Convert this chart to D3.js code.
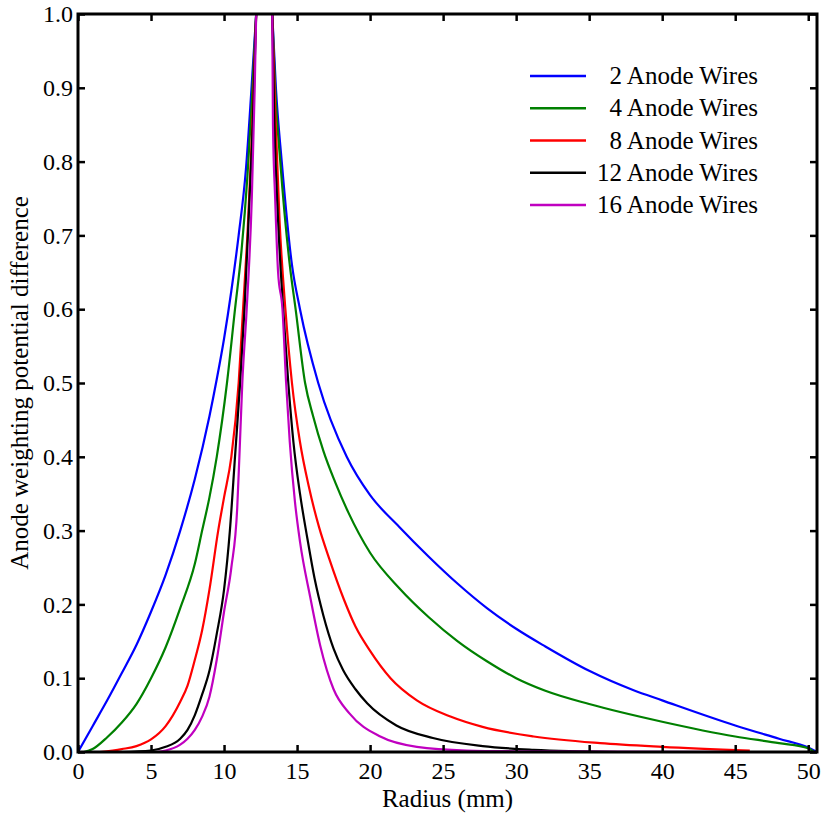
<!DOCTYPE html>
<meta charset="utf-8">
<style>
body { margin: 0; background: #fff; }
.curve { fill: none; stroke-width: 2.2px; stroke-linejoin: round; }
</style>
<svg id="chart"></svg>
<script src="https://cdn.jsdelivr.net/npm/d3@7/dist/d3.min.js"></script>
<script>

// radius (mm) and anode weighting potential difference
// null marks the break where the curve leaves the top of the plot
var wires2 = [[0,0],[1,0.035],[2,0.07],[3,0.107],[4,0.145],[5,0.19],[6,0.24],[7,0.3],[8,0.37],[9,0.455],[9.5,0.505],[10,0.56],[10.5,0.625],[11,0.7],[11.5,0.79],[11.85,0.89],[12.2,1],
  null,
  [13.3,1],[13.55,0.9],[13.95,0.8],[14.65,0.66],[15.2,0.6],[16.45,0.5],[18.4,0.4],[20,0.348],[22,0.305],[24,0.265],[26,0.228],[28,0.195],[30,0.167],[32,0.143],[35,0.11],[38,0.084],[40,0.07],[45,0.036],[48,0.018],[50,0.006],[50.6,0]]
var wires4 = [[0.4,0],[1,0.004],[2,0.02],[3,0.04],[4,0.065],[5,0.1],[6,0.142],[7,0.195],[8,0.255],[8.5,0.3],[9,0.345],[9.5,0.4],[10.2,0.5],[10.75,0.6],[11.2,0.68],[11.6,0.78],[11.9,0.88],[12.2,1],
  null,
  [13.3,1],[13.5,0.9],[13.85,0.8],[14.5,0.66],[14.9,0.6],[15.55,0.5],[16.1,0.455],[16.8,0.408],[17.6,0.366],[18.5,0.325],[20,0.27],[22,0.222],[24,0.183],[26,0.15],[28,0.123],[30,0.1],[32,0.083],[35,0.065],[40,0.041],[45,0.021],[48,0.012],[50,0.005],[50.4,0]]
var wires8 = [[1.5,0],[3,0.004],[4,0.008],[5,0.017],[6,0.035],[7,0.068],[7.5,0.09],[8,0.125],[8.5,0.165],[9,0.22],[9.6,0.3],[10,0.345],[10.5,0.4],[11,0.5],[11.3,0.6],[11.6,0.7],[11.9,0.83],[12.2,1],
  null,
  [13.3,1],[13.5,0.87],[13.8,0.72],[14.2,0.6],[14.65,0.5],[15.2,0.42],[15.8,0.36],[16.5,0.305],[17.2,0.262],[18.2,0.207],[19,0.17],[20,0.137],[21.4,0.1],[23.2,0.07],[25.5,0.048],[27.7,0.034],[31.2,0.021],[35.75,0.012],[40,0.007],[46,0.002]]
var wires12 = [[3,0],[5,0.002],[6,0.007],[7,0.018],[7.5,0.03],[8,0.05],[8.5,0.078],[9,0.11],[9.5,0.16],[10,0.22],[10.4,0.3],[10.75,0.4],[11.1,0.5],[11.4,0.6],[11.7,0.73],[12,0.87],[12.2,1],
  null,
  [13.3,1],[13.45,0.85],[13.7,0.72],[14.05,0.6],[14.4,0.5],[14.75,0.42],[15.2,0.35],[15.7,0.29],[16.2,0.235],[16.8,0.185],[17.5,0.14],[18.15,0.111],[19,0.085],[19.8,0.066],[21.8,0.036],[24.3,0.019],[27.7,0.008],[31.2,0.003],[37,0]]
var wires16 = [[5.4,0],[6,0.002],[7,0.01],[7.5,0.018],[8,0.03],[8.5,0.048],[9,0.075],[9.5,0.125],[10,0.19],[10.5,0.25],[10.9,0.33],[11.05,0.4],[11.25,0.5],[11.55,0.6],[11.9,0.75],[12.1,0.9],[12.2,1],
  null,
  [13.3,1],[13.35,0.85],[13.5,0.75],[13.7,0.65],[14,0.6],[14.25,0.5],[14.5,0.42],[14.85,0.34],[15.2,0.285],[15.9,0.21],[16.6,0.143],[17.5,0.085],[18.6,0.052],[20.7,0.021],[23.2,0.007],[26.6,0.002],[30,0.001],[46,0]]

var seriesNames = ['2 Anode Wires', '4 Anode Wires', '8 Anode Wires', '12 Anode Wires', '16 Anode Wires']
var seriesColors = ['#0000ff', '#008000', '#ff0000', '#000000', '#c000c0']
var seriesData = [wires2, wires4, wires8, wires12, wires16]

var xTicks = [0, 5, 10, 15, 20, 25, 30, 35, 40, 45, 50]
var yTicks = [0, 0.1, 0.2, 0.3, 0.4, 0.5, 0.6, 0.7, 0.8, 0.9, 1.0]

var serif = '"Liberation Serif", "DejaVu Serif", "Times New Roman", serif'

var width = 821,
    height = 816,
    margin = {top: 14, right: 4, bottom: 64, left: 78}

var w = width - margin.left - margin.right,
    h = height - margin.top - margin.bottom

var svg = d3.select('#chart')
            .attr('width', width)
            .attr('height', height)
            .attr('font-family', serif)

var g = svg.append('g')
           .attr('transform', 'translate(' + margin.left + ',' + margin.top + ')')

var x = d3.scaleLinear().domain([0, 50.6]).range([0, w])
var y = d3.scaleLinear().domain([0, 1]).range([h, 0])

g.append('defs').append('clipPath')
    .attr('id', 'clip')
    .append('rect')
    .attr('width', w)
    .attr('height', h)

var line = d3.line()
             .defined((d) => d !== null)
             .curve(d3.curveMonotoneX)
             .x((d) => x(d[0]))
             .y((d) => y(d[1]))

var curves = g.append('g').attr('clip-path', 'url(#clip)')

seriesData.forEach(function (d, i) {
    curves.append('path')
        .datum(d)
        .attr('class', 'curve')
        .attr('stroke', seriesColors[i])
        .attr('d', line)
})

// axes: inward ticks on all four sides
var fmt = d3.format('.1f')
var tickLen = 7

var gx = g.append('g').attr('transform', 'translate(0,' + h + ')')
          .call(d3.axisBottom(x).tickValues(xTicks).tickSize(-tickLen).tickPadding(10).tickSizeOuter(0))
var gxTop = g.append('g')
          .call(d3.axisTop(x).tickValues(xTicks).tickSize(-tickLen).tickFormat('').tickSizeOuter(0))
var gy = g.append('g')
          .call(d3.axisLeft(y).tickValues(yTicks).tickSize(-tickLen).tickPadding(5).tickFormat(fmt).tickSizeOuter(0))
var gyRight = g.append('g').attr('transform', 'translate(' + w + ',0)')
          .call(d3.axisRight(y).tickValues(yTicks).tickSize(-tickLen).tickFormat('').tickSizeOuter(0))

;[gx, gxTop, gy, gyRight].forEach(function (a) {
    a.attr('font-family', serif).attr('font-size', 24)
    a.selectAll('.domain').remove()
    a.selectAll('.tick line').attr('stroke', '#000').attr('stroke-width', 2.5)
    a.selectAll('.tick text').attr('fill', '#000')
})

g.append('rect')
    .attr('width', w)
    .attr('height', h)
    .attr('fill', 'none')
    .attr('stroke', '#000')
    .attr('stroke-width', 3)

g.append('text')
    .attr('x', w / 2)
    .attr('y', h + 55)
    .attr('text-anchor', 'middle')
    .attr('font-size', 25)
    .text('Radius (mm)')

svg.append('text')
    .attr('transform', 'translate(28,' + (margin.top + h / 2) + ') rotate(-90)')
    .attr('text-anchor', 'middle')
    .attr('font-size', 25)
    .text('Anode weighting potential difference')

// legend
var legend = svg.append('g')
var rowY = d3.scalePoint().domain(d3.range(seriesNames.length)).range([76, 205])

seriesNames.forEach(function (name, i) {
    legend.append('line')
        .attr('x1', 530).attr('x2', 586)
        .attr('y1', rowY(i)).attr('y2', rowY(i))
        .attr('stroke', seriesColors[i])
        .attr('stroke-width', 2.5)
    legend.append('text')
        .attr('x', 758)
        .attr('y', rowY(i) + 8)
        .attr('text-anchor', 'end')
        .attr('font-size', 25)
        .text(name)
})
</script>
